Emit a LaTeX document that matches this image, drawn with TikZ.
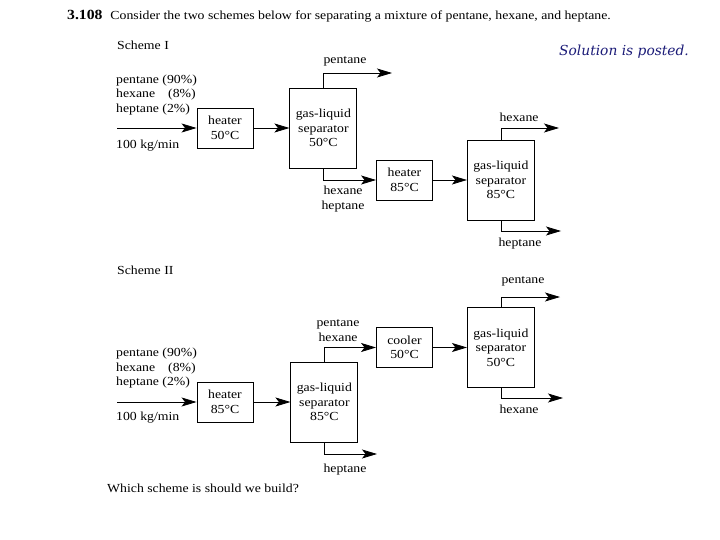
\documentclass[tikz,border=0pt]{standalone}
\usepackage{fontspec}
\setmainfont{Liberation Serif}[FakeStretch=1.12]
\newfontfamily\notefont{DejaVu Serif}
\usetikzlibrary{arrows.meta,positioning}
\definecolor{navyink}{HTML}{1C1C78}

\begin{document}
\begin{tikzpicture}[x=1pt, y=-1pt,
  txt/.style={font=\fontsize{12.3}{14.5}\selectfont, inner sep=0pt},
  procbox/.style={draw=black, line width=0.9pt, fill=white, minimum width=56pt, minimum height=40pt, align=center, txt},
  sepbox/.style={procbox, minimum width=67pt, minimum height=80pt},
  arr/.style={-{Stealth[length=15pt,width=9pt,inset=3.5pt]}, line width=0.8pt},
  lbl/.style={txt, align=center},
  feed/.style={txt, align=left, anchor=west}
]
\useasboundingbox (0,0) rectangle (720,540);

\node[txt, anchor=west] (title) at (67,16) {{\fontsize{14}{16}\selectfont\bfseries 3.108}\hspace{8pt}Consider the two schemes below for separating a mixture of pentane, hexane, and heptane.};
\node[txt, anchor=west, text=navyink] (note) at (559,52) {\notefont\itshape\fontsize{13.8}{16}\selectfont Solution is posted.};
\node[txt, anchor=west] (hdA) at (117,45) {Scheme I};
\node[txt, anchor=west] (hdB) at (117,270) {Scheme II};
\node[txt, anchor=west] (ask) at (107,488) {Which scheme is should we build?};

\node[procbox] (heat1) at (225,128) {heater\\50°C};
\node[sepbox, right=36pt of heat1] (sep1) {gas-liquid\\separator\\50°C};
\node[procbox] (heat2) at (404.5,180) {heater\\85°C};
\node[sepbox, right=34pt of heat2] (sep2) {gas-liquid\\separator\\85°C};

\coordinate (in1) at (117,128);
\coordinate (pent1) at (392,73);
\coordinate (hex1) at (559,128);
\coordinate (hep1) at (561,231);

\node[feed] (mixA) at (116,95) {pentane (90\%)\\hexane\hspace{13pt}(8\%)\\heptane (2\%)};
\node[feed] (rateA) at (116,146) {100 kg/min};
\node[lbl] (lpent1) at (345,61) {pentane};
\node[lbl] (lhh1) at (343,199) {hexane\\heptane};
\node[lbl] (lhex1) at (519,117) {hexane};
\node[lbl] (lhep1) at (520,244) {heptane};

\draw[arr] (in1) -- (heat1); \draw[arr] (heat1) -- (sep1);
\draw[arr] (sep1.north) |- (pent1); \draw[arr] (sep1.south) |- (heat2.west);
\draw[arr] (heat2) -- (sep2);
\draw[arr] (sep2.north) |- (hex1); \draw[arr] (sep2.south) |- (hep1);

\node[procbox] (heat3) at (225,402) {heater\\85°C};
\node[sepbox, right=37pt of heat3] (sep3) {gas-liquid\\separator\\85°C};
\node[procbox] (cool) at (404.5,347.5) {cooler\\50°C};
\node[sepbox, right=34pt of cool] (sep4) {gas-liquid\\separator\\50°C};

\coordinate (in2) at (117,402);
\coordinate (hep2) at (377,454);
\coordinate (pent2) at (560,297);
\coordinate (hex2) at (563,398);

\node[feed] (mixB) at (116,368.5) {pentane (90\%)\\hexane\hspace{13pt}(8\%)\\heptane (2\%)};
\node[feed] (rateB) at (116,418) {100 kg/min};
\node[lbl] (lph2) at (338,330.5) {pentane\\hexane};
\node[lbl] (lhep2) at (345,470) {heptane};
\node[lbl] (lpent2) at (523,281) {pentane};
\node[lbl] (lhex2) at (519,409) {hexane};

\draw[arr] (in2) -- (heat3); \draw[arr] (heat3) -- (sep3);
\draw[arr] (sep3.north) |- (cool.west); \draw[arr] (sep3.south) |- (hep2);
\draw[arr] (cool) -- (sep4);
\draw[arr] (sep4.north) |- (pent2); \draw[arr] (sep4.south) |- (hex2);
\end{tikzpicture}
\end{document}
